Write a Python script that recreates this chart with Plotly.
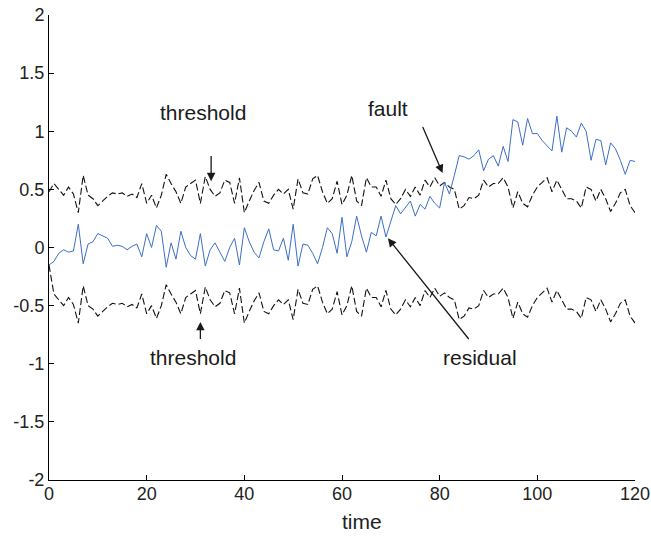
import plotly.graph_objects as go

time = list(range(0, 121))

residual = [
    -0.15, -0.12, -0.05, -0.02, -0.04, -0.03, 0.20, -0.14, 0.03, 0.05,
    0.12, 0.10, 0.08, 0.01, 0.02, 0.01, -0.02, 0.01, 0.03, -0.08,
    0.12, 0.00, 0.19, 0.14, -0.17, 0.04, -0.10, 0.14, 0.00, -0.07,
    -0.10, 0.12, -0.16, -0.02, 0.04, -0.04, -0.12, 0.00, 0.08, -0.15,
    0.17, 0.05, -0.04, -0.09, 0.05, 0.16, -0.02, -0.03, 0.08, -0.11,
    0.20, -0.16, 0.03, 0.02, -0.05, -0.14, 0.00, 0.17, 0.12, -0.05,
    0.26, -0.08, 0.05, 0.27, 0.10, -0.04, 0.13, 0.10, 0.27, 0.09,
    0.22, 0.36, 0.29, 0.35, 0.40, 0.27, 0.37, 0.33, 0.44, 0.38,
    0.34, 0.56, 0.46, 0.62, 0.79, 0.78, 0.76, 0.79, 0.84, 0.66,
    0.76, 0.79, 0.70, 0.87, 0.74, 1.10, 1.08, 0.88, 1.11, 0.98,
    0.98, 0.92, 0.87, 0.83, 1.13, 0.82, 1.03, 1.00, 0.95, 1.07,
    1.00, 0.75, 0.93, 0.92, 0.71, 0.90, 0.85, 0.75, 0.63, 0.75,
    0.74,
]

upper_threshold = [
    0.48, 0.55, 0.50, 0.45, 0.52, 0.46, 0.30, 0.62, 0.45, 0.42,
    0.36, 0.40, 0.44, 0.47, 0.46, 0.47, 0.44, 0.46, 0.43, 0.55,
    0.38, 0.45, 0.34, 0.45, 0.63, 0.55, 0.48, 0.38, 0.52, 0.55,
    0.58, 0.38, 0.61, 0.50, 0.44, 0.47, 0.58, 0.56, 0.38, 0.60,
    0.30, 0.40, 0.49, 0.56, 0.40, 0.38, 0.45, 0.50, 0.46, 0.50,
    0.33, 0.59, 0.47, 0.46, 0.59, 0.62, 0.48, 0.38, 0.42, 0.57,
    0.37, 0.45, 0.62, 0.40, 0.36, 0.60, 0.52, 0.52, 0.44, 0.58,
    0.42, 0.37, 0.42, 0.50, 0.44, 0.52, 0.45, 0.58, 0.52, 0.60,
    0.53, 0.56, 0.52, 0.50, 0.33, 0.36, 0.43, 0.42, 0.45, 0.58,
    0.52, 0.55, 0.55, 0.60, 0.52, 0.34, 0.48, 0.38, 0.35, 0.45,
    0.52, 0.56, 0.60, 0.48, 0.58, 0.50, 0.42, 0.42, 0.40, 0.34,
    0.52, 0.50, 0.40, 0.50, 0.42, 0.31, 0.38, 0.47, 0.50, 0.36,
    0.30,
]

lower_threshold = [
    -0.15, -0.40, -0.45, -0.50, -0.43, -0.49, -0.65, -0.33, -0.50, -0.53,
    -0.59, -0.55, -0.51, -0.48, -0.49, -0.48, -0.51, -0.49, -0.52, -0.40,
    -0.57, -0.50, -0.61, -0.50, -0.32, -0.40, -0.47, -0.57, -0.43, -0.40,
    -0.37, -0.57, -0.34, -0.45, -0.51, -0.48, -0.37, -0.39, -0.57, -0.35,
    -0.65, -0.55, -0.46, -0.39, -0.55, -0.57, -0.50, -0.45, -0.49, -0.45,
    -0.62, -0.36, -0.48, -0.49, -0.36, -0.33, -0.47, -0.57, -0.53, -0.38,
    -0.58, -0.50, -0.33, -0.55, -0.59, -0.35, -0.43, -0.43, -0.51, -0.37,
    -0.53, -0.58, -0.53, -0.45, -0.51, -0.43, -0.50, -0.37, -0.43, -0.35,
    -0.42, -0.39, -0.43, -0.45, -0.62, -0.59, -0.52, -0.53, -0.50, -0.37,
    -0.43, -0.40, -0.40, -0.35, -0.43, -0.61, -0.47, -0.57, -0.60, -0.50,
    -0.43, -0.39, -0.35, -0.47, -0.37, -0.45, -0.53, -0.53, -0.55, -0.61,
    -0.43, -0.45, -0.55, -0.45, -0.53, -0.64, -0.57, -0.48, -0.45, -0.59,
    -0.65,
]

x_ticks = [0, 20, 40, 60, 80, 100, 120]
y_ticks = [-2, -1.5, -1, -0.5, 0, 0.5, 1, 1.5, 2]
y_tick_labels = ["-2", "-1.5", "-1", "-0.5", "0", "0.5", "1", "1.5", "2"]

FONT = "Liberation Sans, Arial, sans-serif"
TXT = "#1a1a1a"

fig = go.Figure()
fig.add_trace(go.Scatter(x=time, y=upper_threshold, mode="lines",
                         line=dict(color="#111111", width=1.1, dash="7px,3px"),
                         showlegend=False, hoverinfo="skip"))
fig.add_trace(go.Scatter(x=time, y=lower_threshold, mode="lines",
                         line=dict(color="#111111", width=1.1, dash="7px,3px"),
                         showlegend=False, hoverinfo="skip"))
fig.add_trace(go.Scatter(x=time, y=residual, mode="lines",
                         line=dict(color="#3d6fc6", width=1),
                         showlegend=False))

arrow_style = dict(showarrow=True, arrowhead=2, arrowsize=1.3, arrowwidth=1.3,
                   arrowcolor=TXT, axref="x", ayref="y")
label_font = dict(family=FONT, size=21, color=TXT)

annotations = [
    dict(x=33.2, y=0.57, ax=33.2, ay=0.80, text="", **arrow_style),
    dict(x=31.5, y=1.16, text="threshold", showarrow=False, font=label_font),
    dict(x=31.0, y=-0.64, ax=31.0, ay=-0.80, text="", **arrow_style),
    dict(x=29.5, y=-0.95, text="threshold", showarrow=False, font=label_font),
    dict(x=80.6, y=0.64, ax=76.4, ay=1.05, text="", **arrow_style),
    dict(x=69.4, y=1.20, text="fault", showarrow=False, font=label_font),
    dict(x=69.4, y=0.08, ax=86.2, ay=-0.80, text="", **arrow_style),
    dict(x=88.3, y=-0.95, text="residual", showarrow=False, font=label_font),
    dict(x=0.534, y=-0.09, xref="paper", yref="paper", text="time",
         showarrow=False, xanchor="center", yanchor="middle",
         font=dict(family=FONT, size=21, color="#222222")),
]

fig.update_layout(
    width=651, height=538,
    margin=dict(l=49, r=16, t=15, b=58, autoexpand=False),
    paper_bgcolor="white", plot_bgcolor="white",
    annotations=annotations,
    font=dict(family=FONT, color="#222222"),
)
fig.update_xaxes(range=[0, 120], tickvals=x_ticks, ticks="inside", ticklen=5,
                 showline=True, linecolor="black", linewidth=1, automargin=False,
                 showgrid=False, zeroline=False, tickcolor="black",
                 ticklabelstandoff=-3,
                 tickfont=dict(family=FONT, size=18, color="#222222"))
fig.update_yaxes(range=[-2, 2], tickvals=y_ticks, ticktext=y_tick_labels,
                 ticks="inside", ticklen=5, automargin=False,
                 showline=True, linecolor="black", linewidth=1,
                 showgrid=False, zeroline=False, tickcolor="black",
                 tickfont=dict(family=FONT, size=18, color="#222222"))

fig.write_html("out.html")
